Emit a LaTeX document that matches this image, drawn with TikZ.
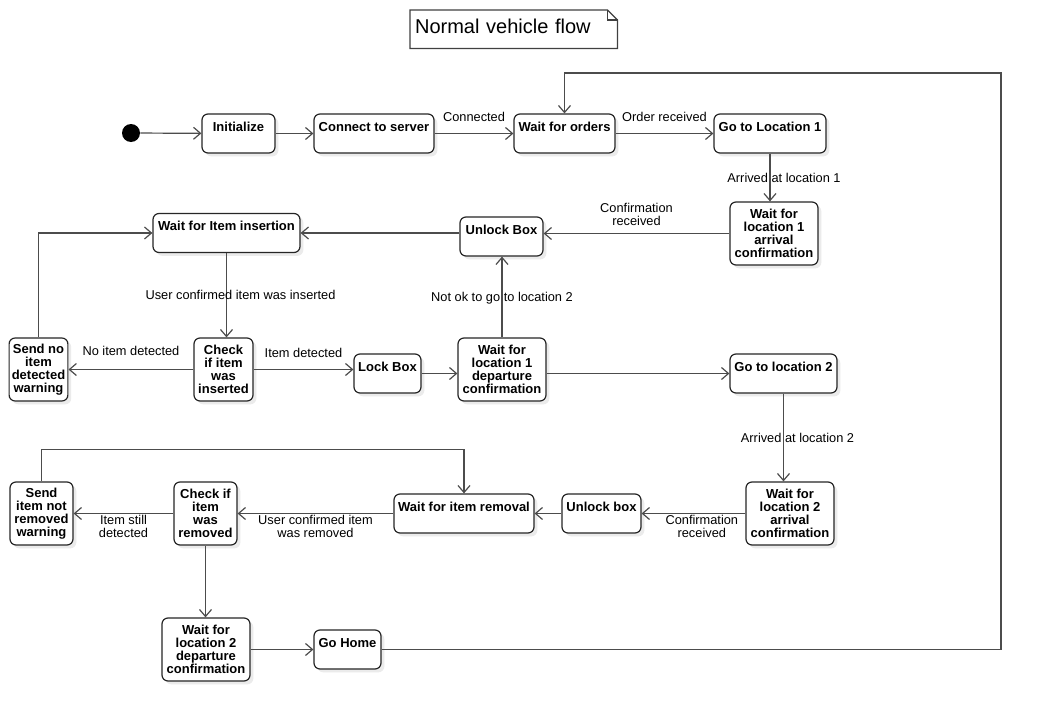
\documentclass[tikz,border=0pt]{standalone}
\usepackage{fontspec}
\setmainfont{Liberation Sans}
\usetikzlibrary{arrows.meta,shadows}

\begin{document}
\begin{tikzpicture}[x=0.75pt,y=-0.75pt,
state/.style={draw=black!85,line width=0.9pt,fill=white,rounded corners=4.5pt,align=center,font=\bfseries\fontsize{9.75}{9.75}\selectfont,inner xsep=2pt,drop shadow={shadow xshift=2.5pt,shadow yshift=-2.5pt,fill=black!8,opacity=1}},
onestate/.style={state,minimum height=29.25pt,inner ysep=3pt,text height=9.75pt,text depth=13.5pt},
twostate/.style={state,minimum height=47.25pt,inner ysep=0pt},
startdot/.style={circle,fill=black,minimum size=13.5pt,inner sep=0pt},
flow/.style={-{Straight Barb[length=5.25pt,width=9pt]},line width=0.9pt,draw=black!70},
notebox/.style={draw=black!75,line width=0.9pt},
lbl/.style={font=\fontsize{9.6}{9.75}\selectfont,inner sep=0pt,align=center,text depth=0pt}]
\fill[white] (0,0) rectangle (1043,721);
\useasboundingbox (0,0) rectangle (1043,721);
% title note
\node[minimum width=155.25pt,minimum height=28.5pt,text width=148pt,inner xsep=3.6pt,text depth=4.6pt,align=left,anchor=north west,font=\fontsize{15}{15}\selectfont] (title) at (410,10) {Normal vehicle flow};
\draw[notebox] (title.south west) -- (title.north west) -- ([xshift=-7.5pt]title.north east) -- ([yshift=-7.5pt]title.north east) -- (title.south east) -- cycle;
\draw[notebox] ([xshift=-7.5pt]title.north east) -- ([xshift=-7.5pt,yshift=-7.5pt]title.north east) -- ([yshift=-7.5pt]title.north east);
% states
\node[startdot] (start) at (131,133) {};
\node[onestate,minimum width=54.75pt] (init) at (238.5,133.5) {Initialize};
\node[onestate,minimum width=90pt] (connect) at (374,133.5) {Connect to server};
\node[onestate,minimum width=75.75pt] (waitord) at (564.5,133.5) {Wait for orders};
\node[onestate,minimum width=84pt] (goloc1) at (770,133.5) {Go to Location 1};
\node[twostate,minimum width=66pt] (arrive1) at (774,233.5) {Wait for\\location 1\\arrival\\confirmation};
\node[onestate,minimum width=62.25pt] (unlock1) at (501.5,236.5) {Unlock Box};
\node[onestate,minimum width=110.25pt] (waitins) at (226.5,233) {Wait for Item insertion};
\node[twostate,minimum width=42.75pt] (sendno) at (38.5,369.5) {Send no\\item\\detected\\warning};
\node[twostate,minimum width=44.25pt] (checkins) at (223.5,369.5) {Check\\if item\\was\\inserted};
\node[onestate,minimum width=50.25pt] (lockbox) at (387.5,373.5) {Lock Box};
\node[twostate,minimum width=66pt] (depart1) at (502,369.5) {Wait for\\location 1\\departure\\confirmation};
\node[onestate,minimum width=80.25pt] (goloc2) at (783.5,373.5) {Go to location 2};
\node[twostate,minimum width=66pt] (arrive2) at (790,513.5) {Wait for\\location 2\\arrival\\confirmation};
\node[onestate,minimum width=59.25pt] (unlock2) at (601.5,513.5) {Unlock box};
\node[onestate,minimum width=105pt] (waitrem) at (464,513.5) {Wait for item removal};
\node[twostate,minimum width=47.25pt] (checkrem) at (205.5,513.5) {Check if\\item\\was\\removed};
\node[twostate,minimum width=47.25pt] (sendnr) at (41.5,513.5) {Send\\item not\\removed\\warning};
\node[twostate,minimum width=66pt] (depart2) at (206,649.5) {Wait for\\location 2\\departure\\confirmation};
\node[onestate,minimum width=50.25pt] (gohome) at (347.5,649.5) {Go Home};
\coordinate (loop) at (1001,73);
% transitions
\draw[flow] (start) -- (init);
\draw[flow] (init) -- (connect);
\draw[flow] (connect) -- node[lbl,above=8.6pt]{Connected} (waitord);
\draw[flow] (waitord) -- node[lbl,above=8.6pt]{Order received} (goloc1);
\draw[flow] (goloc1.south) -- node[lbl,xshift=10.5pt]{Arrived at location 1} (goloc1.south |- arrive1.north);
\draw[flow] (arrive1.west) -- node[lbl,above=5.8pt]{Confirmation\\received} (arrive1.west -| unlock1.east);
\draw[flow] (unlock1.west |- waitins) -- (waitins.east);
\draw[flow] (waitins.south) -- node[lbl,xshift=10.5pt]{User confirmed item was inserted} (waitins.south |- checkins.north);
\draw[flow] (checkins.west) -- node[lbl,above=10pt]{No item detected} (sendno.east);
\draw[flow] (sendno.north) |- (waitins.west);
\draw[flow] (checkins.east) -- node[lbl,above=8.3pt]{Item detected} (checkins.east -| lockbox.west);
\draw[flow] (lockbox.east) -- (lockbox.east -| depart1.west);
\draw[flow] (depart1.north) -- node[lbl]{Not ok to go to location 2} (depart1.north |- unlock1.south);
\draw[flow] (depart1.east |- goloc2) -- (goloc2.west);
\draw[flow] (goloc2.south) -- node[lbl,xshift=10.5pt]{Arrived at location 2} (goloc2.south |- arrive2.north);
\draw[flow] (arrive2.west) -- node[lbl,below=0.8pt,pos=0.42]{Confirmation\\received} (unlock2.east);
\draw[flow] (unlock2.west) -- (waitrem.east);
\draw[flow] (waitrem.west) -- node[lbl,below=0.8pt]{User confirmed item\\was removed} (checkrem.east);
\draw[flow] (checkrem.west) -- node[lbl,below=0.8pt]{Item still\\detected} (sendnr.east);
\draw[flow] (sendnr.north) -- ++(0,-32) -| (waitrem.north);
\draw[flow] (checkrem.south) -- (checkrem.south |- depart2.north);
\draw[flow] (depart2.east) -- (depart2.east -| gohome.west);
\draw[flow] (gohome.east) -| (loop) -| (waitord.north);
\end{tikzpicture}
\end{document}
